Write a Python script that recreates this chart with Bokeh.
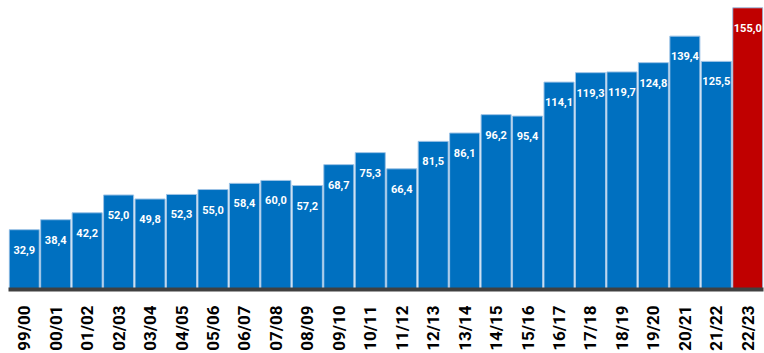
import math
from bokeh.plotting import figure
from bokeh.models import ColumnDataSource, Range1d, FactorRange
from bokeh.core.properties import value
from bokeh.embed import file_html
from bokeh.resources import INLINE

seasons = ["99/00", "00/01", "01/02", "02/03", "03/04", "04/05", "05/06", "06/07",
           "07/08", "08/09", "09/10", "10/11", "11/12", "12/13", "13/14", "14/15",
           "15/16", "16/17", "17/18", "18/19", "19/20", "20/21", "21/22", "22/23"]
values = [32.9, 38.4, 42.2, 52.0, 49.8, 52.3, 55.0, 58.4, 60.0, 57.2, 68.7, 75.3,
          66.4, 81.5, 86.1, 96.2, 95.4, 114.1, 119.3, 119.7, 124.8, 139.4, 125.5, 155.0]
highlight = "22/23"

BLUE = "#0070C0"
RED = "#C00000"

colors = [RED if s == highlight else BLUE for s in seasons]
labels = [f"{v:.1f}".replace(".", ",") for v in values]

source = ColumnDataSource(dict(x=seasons, top=values, color=colors, label=labels))

p = figure(width=764, height=353, x_range=FactorRange(*seasons, range_padding=0),
           y_range=Range1d(0, 159), output_backend="svg", toolbar_location=None,
           min_border_left=8, min_border_right=1, min_border_top=0, min_border_bottom=62)

p.vbar(x="x", top="top", width=0.955, source=source, fill_color="color",
       line_color="#9DC3E6", line_width=1)

p.text(x="x", y="top", text="label", source=source, text_align="center",
       text_baseline="middle", y_offset=20, text_color="white",
       text_font=value("Roboto"), text_font_style="bold", text_font_size="11px")

p.yaxis.visible = False
p.xgrid.grid_line_color = None
p.ygrid.grid_line_color = None
p.outline_line_color = None
p.background_fill_color = "white"
p.border_fill_color = "white"

xa = p.xaxis[0]
xa.axis_line_width = 4
xa.axis_line_color = "#404040"
xa.major_tick_line_color = None
xa.minor_tick_line_color = None
xa.major_label_orientation = math.pi / 2
xa.major_label_text_font = "Roboto"
xa.major_label_text_font_style = "bold"
xa.major_label_text_font_size = "17px"
xa.major_label_text_color = "#000000"
xa.major_label_standoff = 10

open("out.html", "w").write(file_html(p, INLINE))
